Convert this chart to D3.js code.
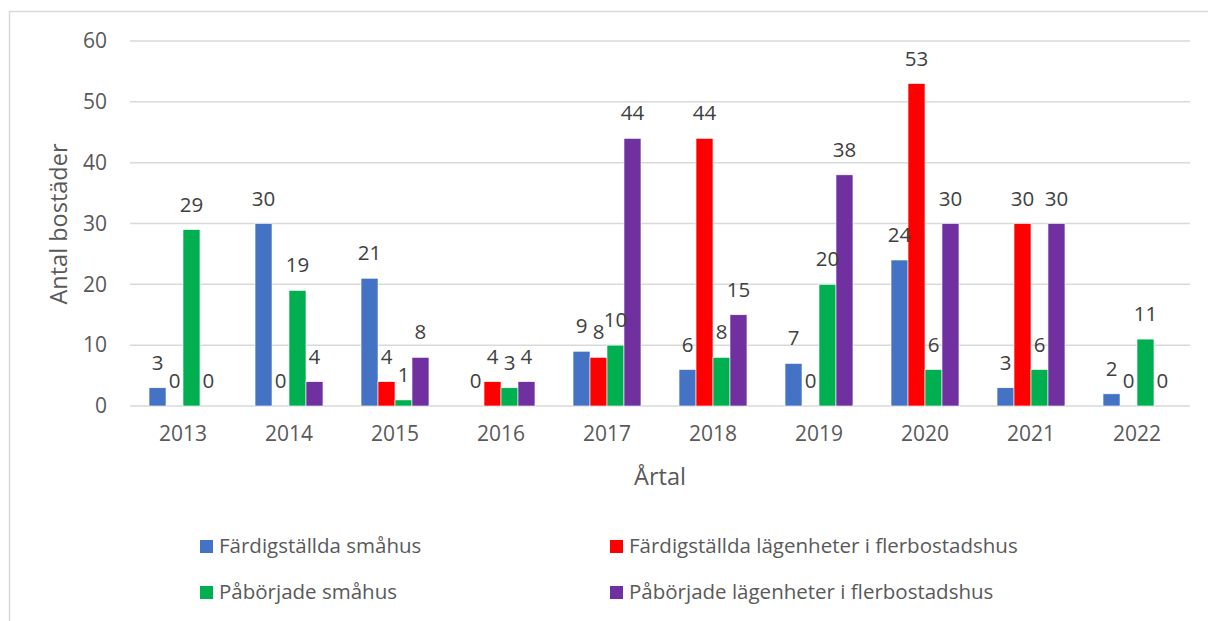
<!DOCTYPE html>
<html>
<head>
<meta charset="utf-8">
<script src="https://cdn.jsdelivr.net/npm/d3@7"></script>
<style>
  body { margin: 0; background: #fff; }
  svg { display: block; font-family: "Open Sans", sans-serif; }
</style>
</head>
<body>
<svg id="chart" width="1208" height="621"></svg>
<script>
// data
const years = ["2013", "2014", "2015", "2016", "2017", "2018", "2019", "2020", "2021", "2022"];
const fardigSmahus = [3, 30, 21, 0, 9, 6, 7, 24, 3, 2];
const fardigLgh = [0, 0, 4, 4, 8, 44, 0, 53, 30, 0];
const paborjSmahus = [29, 19, 1, 3, 10, 8, 20, 6, 6, 11];
const paborjLgh = [0, 4, 8, 4, 44, 15, 38, 30, 30, 0];
const yTicks = [0, 10, 20, 30, 40, 50, 60];

const series = [
  { name: "Färdigställda småhus", values: fardigSmahus, color: "#4472C4" },
  { name: "Färdigställda lägenheter i flerbostadshus", values: fardigLgh, color: "#FF0000" },
  { name: "Påbörjade småhus", values: paborjSmahus, color: "#00B050" },
  { name: "Påbörjade lägenheter i flerbostadshus", values: paborjLgh, color: "#7030A0" }
];

const svg = d3.select("#chart");
const margin = { left: 130, right: 1190, top: 41, bottom: 406 };

// outer chart border
svg.append("rect")
  .attr("x", 9.5).attr("y", 11.5)
  .attr("width", 1210).attr("height", 640)
  .attr("fill", "none")
  .attr("stroke", "#d9d9d9")
  .attr("stroke-width", 1.5);

// scales
const x = d3.scaleBand()
  .domain(years)
  .range([margin.left, margin.right]);

const x1 = d3.scaleBand()
  .domain(d3.range(series.length))
  .range([0, x.bandwidth()])
  .paddingOuter(1.12);

const y = d3.scaleLinear()
  .domain([0, 60])
  .range([margin.bottom, margin.top]);

// gridlines
svg.append("g")
  .selectAll("line")
  .data(yTicks)
  .join("line")
  .attr("x1", margin.left).attr("x2", margin.right)
  .attr("y1", d => y(d)).attr("y2", d => y(d))
  .attr("stroke", "#d9d9d9")
  .attr("stroke-width", 1.5);

// y axis labels
const yAxis = g => g
  .attr("transform", "translate(" + (margin.left - 16) + ",0)")
  .call(d3.axisLeft(y).tickValues(yTicks).tickSize(0).tickPadding(7))
  .call(g => g.select(".domain").remove())
  .call(g => g.selectAll("text")
    .attr("fill", "#595959")
    .attr("font-size", 21)
    .attr("font-family", "Open Sans, sans-serif"));
svg.append("g").call(yAxis);

// x axis labels
const xAxis = g => g
  .attr("transform", "translate(0," + margin.bottom + ")")
  .call(d3.axisBottom(x).tickSize(0).tickPadding(20))
  .call(g => g.select(".domain").remove())
  .call(g => g.selectAll("text")
    .attr("fill", "#595959")
    .attr("font-size", 21)
    .attr("font-family", "Open Sans, sans-serif"));
svg.append("g").call(xAxis);

// bars
const groups = svg.append("g")
  .selectAll("g")
  .data(years)
  .join("g")
  .attr("transform", d => "translate(" + x(d) + ",0)");

groups.selectAll("rect")
  .data((d, i) => series.map((s, k) => ({ k: k, v: s.values[i], color: s.color })))
  .join("rect")
  .attr("x", d => x1(d.k))
  .attr("width", x1.bandwidth())
  .attr("y", d => y(d.v))
  .attr("height", d => y(0) - y(d.v))
  .attr("fill", d => d.color)
  .attr("stroke", "#fff")
  .attr("stroke-width", 0.6);

// data labels
groups.selectAll("text")
  .data((d, i) => series.map((s, k) => ({ k: k, v: s.values[i] })))
  .join("text")
  .attr("x", d => x1(d.k) + x1.bandwidth() / 2)
  .attr("y", d => y(d.v) - 18)
  .attr("text-anchor", "middle")
  .attr("font-size", 20.5)
  .attr("fill", "#404040")
  .text(d => d.v);

// axis titles
svg.append("text")
  .attr("transform", "translate(67,224) rotate(-90)")
  .attr("text-anchor", "middle")
  .attr("font-size", 23.5)
  .attr("fill", "#595959")
  .text("Antal bostäder");

svg.append("text")
  .attr("x", (margin.left + margin.right) / 2)
  .attr("y", 485)
  .attr("text-anchor", "middle")
  .attr("font-size", 23.5)
  .attr("fill", "#595959")
  .text("Årtal");

// legend
const legendPos = [[200, 540], [610, 540], [200, 586], [610, 586]];
const legend = svg.append("g")
  .selectAll("g")
  .data(series)
  .join("g")
  .attr("transform", (d, i) => "translate(" + legendPos[i][0] + "," + legendPos[i][1] + ")");

legend.append("rect")
  .attr("width", 13).attr("height", 13)
  .attr("fill", d => d.color);

legend.append("text")
  .attr("x", 19).attr("y", 13)
  .attr("font-size", 20.5)
  .attr("fill", "#595959")
  .text(d => d.name);
</script>
</body>
</html>
